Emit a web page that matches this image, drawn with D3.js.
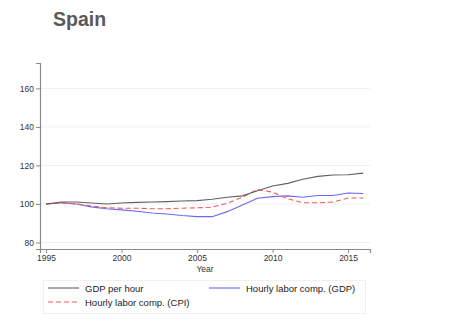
<!DOCTYPE html>
<html lang="en">
<head>
  <meta charset="UTF-8">
  <title>Spain</title>
  <script src="https://d3js.org/d3.v7.min.js"></script>
  <style>
    body { margin: 0; background: #fff; font-family: Arial, "Liberation Sans", sans-serif; }
  </style>
</head>
<body>
  <div id="chart"></div>
  <script>
    // values
    const years = d3.range(1995, 2017);
    const gdpPerHour = [100, 101, 101, 100.5, 100, 100.5, 100.8, 101, 101.2, 101.5, 101.7, 102.4, 103.5, 104.2, 106.9, 109.3, 110.7, 112.8, 114.3, 115, 115.2, 116];
    const laborGdp   = [100, 100.6, 100, 98.5, 97.5, 96.9, 96.2, 95.3, 94.8, 94, 93.4, 93.4, 96, 99.5, 103, 103.8, 104.2, 103.5, 104.4, 104.4, 105.7, 105.4];
    const laborCpi   = [100, 100.5, 100, 99, 98, 97.8, 97.8, 97.5, 97.5, 97.8, 98, 98.3, 100.4, 103.5, 107.5, 106.1, 102.7, 100.6, 100.6, 101, 103.1, 103.1];
    const yTicks = [80, 100, 120, 140, 160];
    const xTicks = [1995, 2000, 2005, 2010, 2015];

    const width = 450, height = 327;
    const svg = d3.select("#chart").append("svg")
      .attr("width", width).attr("height", height);

    svg.append("text").attr("x", 53).attr("y", 26)
      .attr("font-size", 19.5).attr("font-weight", "bold").attr("fill", "#595959")
      .text("Spain");

    const x = d3.scaleLinear().domain([1994.6, 2016.45]).range([40, 370]);
    const y = d3.scaleLinear().domain([76.6, 173.2]).range([249, 63]);

    // grid
    svg.append("g").selectAll("line").data(yTicks).join("line")
      .attr("x1", 41).attr("x2", 370)
      .attr("y1", d => y(d)).attr("y2", d => y(d))
      .attr("stroke", "#f0f0f0").attr("stroke-width", 1);

    const yAxis = svg.append("g").attr("transform", "translate(40,0)")
      .call(d3.axisLeft(y).tickValues(yTicks).tickSize(4).tickPadding(2));
    const xAxis = svg.append("g").attr("transform", "translate(0,249)")
      .call(d3.axisBottom(x).tickValues(xTicks).tickFormat(d3.format("d")).tickSize(4).tickPadding(2));
    [xAxis, yAxis].forEach(g => {
      g.select(".domain").attr("stroke", "#8a8a8a").attr("stroke-width", 1.2);
      g.selectAll(".tick line").attr("stroke", "#8a8a8a");
      g.selectAll(".tick text").attr("fill", "#333").attr("font-size", 8.5)
        .attr("font-family", "Arial, 'Liberation Sans', sans-serif");
    });

    svg.append("text").attr("x", 205).attr("y", 272).attr("text-anchor", "middle")
      .attr("font-size", 8.5).attr("fill", "#333").text("Year");

    const series = [
      { name: "GDP per hour", values: gdpPerHour, color: "#606060", dash: null },
      { name: "Hourly labor comp. (GDP)", values: laborGdp, color: "#6a6af0", dash: null },
      { name: "Hourly labor comp. (CPI)", values: laborCpi, color: "#f05a5a", dash: "5,3" }
    ];

    const line = d3.line().x((d, i) => x(years[i])).y(d => y(d));
    // draw blue and red first, gray on top
    [series[1], series[2], series[0]].forEach(s => {
      svg.append("path").datum(s.values)
        .attr("d", line).attr("fill", "none")
        .attr("stroke", s.color).attr("stroke-width", 1.1)
        .attr("stroke-dasharray", s.dash);
    });

    // legend
    const lg = svg.append("g");
    lg.append("rect").attr("x", 43.5).attr("y", 280.5).attr("width", 322).attr("height", 33)
      .attr("fill", "#fff").attr("stroke", "#f0f0f0");
    const pos = [[48, 288], [209, 288], [48, 302]];
    series.forEach((s, i) => {
      const [lx, ly] = pos[i];
      lg.append("line").attr("x1", lx).attr("x2", lx + 31).attr("y1", ly).attr("y2", ly)
        .attr("stroke", s.color).attr("stroke-width", 1.1).attr("stroke-dasharray", s.dash);
      lg.append("text").attr("x", lx + 37).attr("y", ly + 3.5)
        .attr("font-size", 9.5).attr("fill", "#222").text(s.name);
    });
  </script>
</body>
</html>
